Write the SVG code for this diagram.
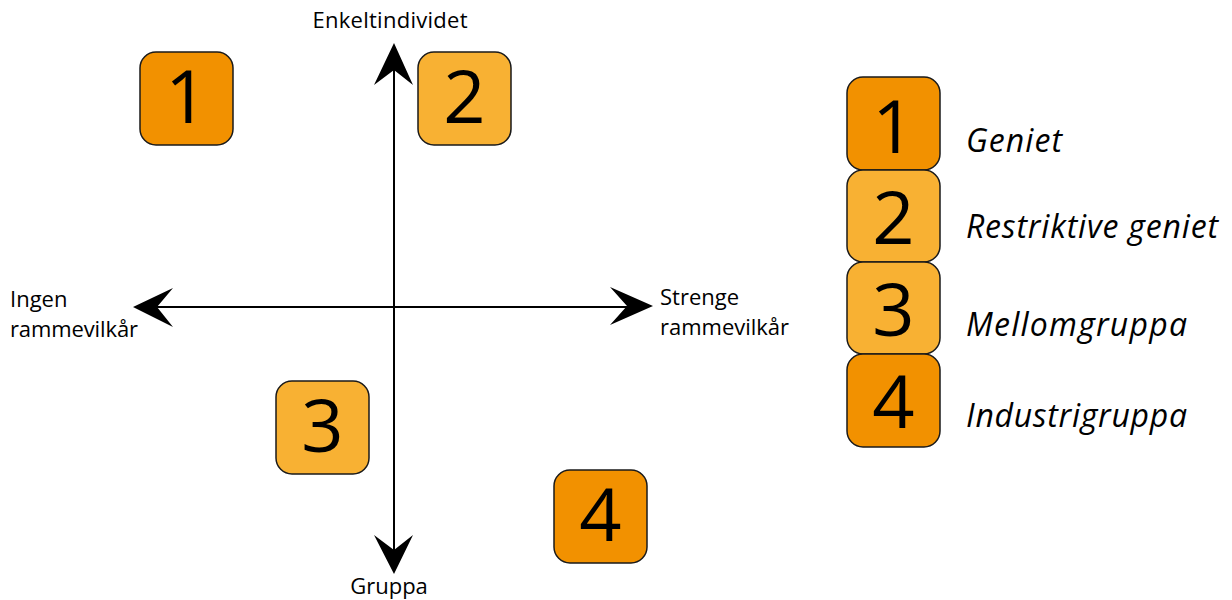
<svg xmlns="http://www.w3.org/2000/svg" width="1232" height="600" viewBox="0 0 1232 600">
<style>
.box{stroke:#1a1a1a;stroke-width:1.5}
.dark{fill:#F29100}
.light{fill:#F8B133}
.num{font-family:"Open Sans","Noto Sans",sans-serif;font-size:74px;fill:#000;text-anchor:middle}
.lab{font-family:"Open Sans","Noto Sans",sans-serif;font-size:22px;fill:#000}
.leg{font-family:"Open Sans","Noto Sans",sans-serif;font-size:32px;font-style:italic;fill:#000}
.axis{stroke:#000;stroke-width:2;fill:none}
.head{fill:#000}
</style>
<rect width="1232" height="600" fill="#fff"/>
<g id="connectors">
<line class="axis" x1="394" y1="60" x2="394" y2="560"/>
<line class="axis" x1="150" y1="307" x2="640" y2="307"/>
<path class="head" d="M394,43 L413,85 L394,70 L374,85 Z"/>
<path class="head" d="M394,574 L374,535 L394,550 L413,535 Z"/>
<path class="head" d="M133,307 L173,288 L157,307 L173,327 Z"/>
<path class="head" d="M653,306 L610,287 L627,306 L610,325 Z"/>
</g>
<g id="axis-labels">
<text class="lab" x="390" y="28" text-anchor="middle" textLength="155">Enkeltindividet</text>
<text class="lab" x="389" y="594" text-anchor="middle">Gruppa</text>
<text class="lab" x="10" y="307">Ingen</text>
<text class="lab" x="10" y="337" textLength="128">rammevilkår</text>
<text class="lab" x="660" y="305">Strenge</text>
<text class="lab" x="660" y="335" textLength="129">rammevilkår</text>
</g>
<g id="node-1">
<rect class="box dark" x="140" y="52" width="93" height="93" rx="16"/>
<text class="num" x="186.5" y="123">1</text>
</g>
<g id="node-2">
<rect class="box light" x="418" y="52" width="93" height="93" rx="16"/>
<text class="num" x="464.5" y="123">2</text>
</g>
<g id="node-3">
<rect class="box light" x="276" y="381" width="93" height="93" rx="16"/>
<text class="num" x="322.5" y="452">3</text>
</g>
<g id="node-4">
<rect class="box dark" x="554" y="470" width="93" height="93" rx="16"/>
<text class="num" x="600.5" y="541">4</text>
</g>
<g id="legend-1">
<rect class="box dark" x="847" y="77" width="93" height="93" rx="16"/>
<text class="num" x="893.5" y="153">1</text>
<text class="leg" x="966" y="152" textLength="96">Geniet</text>
</g>
<g id="legend-2">
<rect class="box light" x="847" y="170" width="93" height="92" rx="16"/>
<text class="num" x="893.5" y="244">2</text>
<text class="leg" x="966" y="238" textLength="252">Restriktive geniet</text>
</g>
<g id="legend-3">
<rect class="box light" x="847" y="262" width="93" height="92" rx="16"/>
<text class="num" x="893.5" y="336">3</text>
<text class="leg" x="966" y="336" textLength="221">Mellomgruppa</text>
</g>
<g id="legend-4">
<rect class="box dark" x="847" y="354" width="93" height="93" rx="16"/>
<text class="num" x="893.5" y="428">4</text>
<text class="leg" x="966" y="427" textLength="221">Industrigruppa</text>
</g>
</svg>
